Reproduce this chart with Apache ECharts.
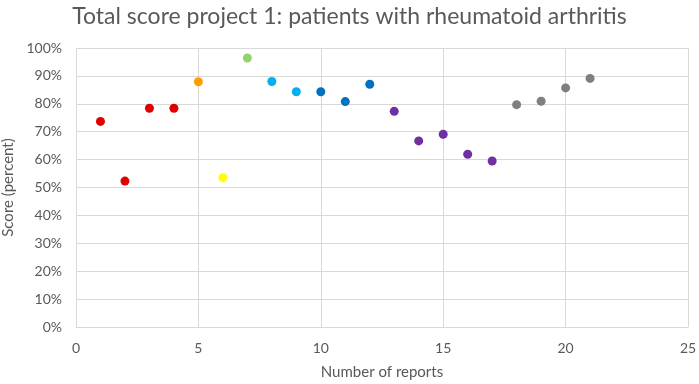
<!DOCTYPE html>
<html>
<head>
<meta charset="utf-8">
<script src="https://cdn.jsdelivr.net/npm/echarts@6/dist/echarts.min.js"></script>
<style>
  html, body { margin: 0; padding: 0; background: #fff; }
  #chart { width: 699px; height: 384px; }
</style>
</head>
<body>
<div id="chart"></div>
<script>
  // number of reports (x) and total score in percent (y)
  const reports = [1, 2, 3, 4, 5, 6, 7, 8, 9, 10, 11, 12, 13, 14, 15, 16, 17, 18, 19, 20, 21]
  const scores = [73.7, 52.3, 78.4, 78.4, 87.9, 53.5, 96.4, 88.0, 84.3, 84.3, 80.8, 87.0, 77.3, 66.7, 69.1, 61.9, 59.5, 79.7, 80.9, 85.7, 89.1]
  const pointColors = ['#e00000', '#e00000', '#e00000', '#e00000', '#ffa000', '#ffff00', '#92d36e',
    '#00b0f0', '#00b0f0', '#0070c0', '#0070c0', '#0070c0', '#7030a0', '#7030a0', '#7030a0',
    '#7030a0', '#7030a0', '#7f7f7f', '#7f7f7f', '#7f7f7f', '#7f7f7f']
  const xTicks = [0, 5, 10, 15, 20, 25]
  const yTicks = [0, 10, 20, 30, 40, 50, 60, 70, 80, 90, 100]

  const font = 'Lato, "Open Sans", sans-serif'
  const textColor = '#595959'

  let points = reports.map((r, i) => ({
    value: [r, scores[i]],
    itemStyle: { color: pointColors[i], opacity: 1 }
  }))

  let option = {
    animation: false,
    title: {
      text: 'Total score project 1: patients with rheumatoid arthritis',
      left: 'center',
      top: 0,
      textStyle: { fontFamily: font, fontSize: 23, fontWeight: 'normal', color: textColor }
    },
    grid: { left: 76, right: 11, top: 48, bottom: 57, outerBoundsMode: 'none' },
    xAxis: {
      type: 'value',
      min: xTicks[0],
      max: xTicks[xTicks.length - 1],
      interval: 5,
      name: 'Number of reports',
      nameLocation: 'middle',
      nameGap: 38,
      nameTextStyle: { fontFamily: font, fontSize: 15, color: textColor },
      axisLine: { show: true, lineStyle: { color: '#d9d9d9' } },
      axisTick: { show: false },
      axisLabel: { fontFamily: font, fontSize: 14, color: textColor, margin: 14 },
      splitLine: { show: true, lineStyle: { color: '#d9d9d9' } }
    },
    yAxis: {
      type: 'value',
      min: yTicks[0],
      max: yTicks[yTicks.length - 1],
      interval: 10,
      name: 'Score (percent)',
      nameLocation: 'middle',
      nameGap: 57,
      nameTextStyle: { fontFamily: font, fontSize: 15, color: textColor },
      axisLine: { show: true, lineStyle: { color: '#d9d9d9' } },
      axisTick: { show: false },
      axisLabel: { fontFamily: font, fontSize: 14, color: textColor, margin: 14, formatter: '{value}%' },
      splitLine: { show: true, lineStyle: { color: '#d9d9d9' } }
    },
    series: [{
      type: 'scatter',
      symbol: 'circle',
      symbolSize: 9,
      data: points
    }]
  }

  echarts.init(document.getElementById('chart')).setOption(option)
</script>
</body>
</html>
